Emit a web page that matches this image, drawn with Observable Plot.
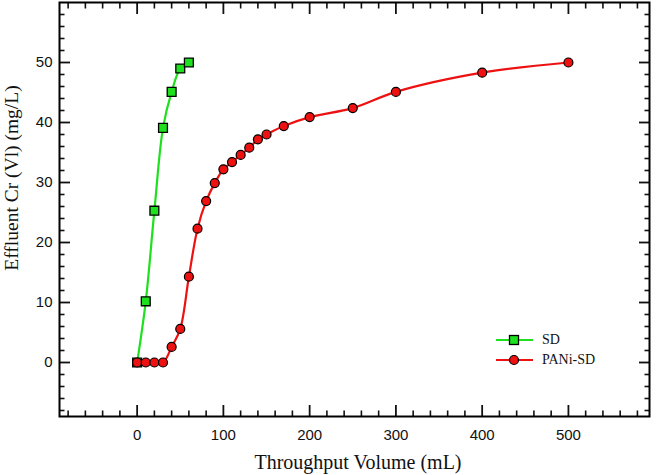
<!DOCTYPE html>
<html>
<head>
<meta charset="utf-8">
<script src="https://cdn.jsdelivr.net/npm/d3@7"></script>
<script src="https://cdn.jsdelivr.net/npm/@observablehq/plot@0.6"></script>
<style>
  html, body { margin: 0; padding: 0; background: #fff; }
  #wrap { position: relative; width: 656px; height: 475px; }
  #legend { position: absolute; left: 494px; top: 330px; font-family: "Liberation Serif", serif; font-size: 14px; color: #111; }
  #legend .row { display: flex; align-items: center; height: 20px; }
  #legend svg { margin-right: 9px; }
</style>
</head>
<body>
<div id="wrap"></div>
<script>
// Data
const sdVolume = [0, 10, 20, 30, 40, 50, 60];
const sdCr = [0, 10.2, 25.3, 39.1, 45.1, 49.0, 50.0];
const paniVolume = [0, 10, 20, 30, 40, 50, 60, 70, 80, 90, 100, 110, 120, 130, 140, 150, 170, 200, 250, 300, 400, 500];
const paniCr = [0, 0, 0, 0, 2.6, 5.6, 14.3, 22.3, 26.9, 29.9, 32.2, 33.4, 34.6, 35.8, 37.2, 38.0, 39.4, 40.9, 42.4, 45.1, 48.3, 50.0];
const xMajorTicks = [0, 100, 200, 300, 400, 500];
const yMajorTicks = [0, 10, 20, 30, 40, 50];
const seriesNames = ["SD", "PANi-SD"];
const xTitle = "Throughput Volume (mL)";
const yTitle = "Effluent Cr (Vl) (mg/L)";

const sd = sdVolume.map((v, i) => ({x: v, y: sdCr[i]}));
const pani = paniVolume.map((v, i) => ({x: v, y: paniCr[i]}));
const xMinor = d3.range(-80, 594, 20).filter(v => v % 100 !== 0);
const yMinor = d3.range(-8, 60, 2).filter(v => v % 10 !== 0);

const green = "#1fe01f";
const red = "#ee1111";

const W = 656, H = 475, ML = 59, MR = 7, MT = 2, MB = 59;

const chart = Plot.plot({
  width: W,
  height: H,
  marginLeft: ML,
  marginRight: MR,
  marginTop: MT,
  marginBottom: MB,
  style: {fontFamily: "Liberation Sans, Arial, sans-serif", fontSize: "15px", color: "#111", background: "#fff"},
  x: {domain: [-90, 594]},
  y: {domain: [-9, 60]},
  marks: [
    // labels
    Plot.axisX({anchor: "bottom", ticks: xMajorTicks, tickSize: 0, tickPadding: 13, fontSize: 15, label: null}),
    Plot.axisY({anchor: "left", ticks: yMajorTicks, tickSize: 0, tickPadding: 7, fontSize: 15, label: null}),
    // inward major ticks
    Plot.axisX({anchor: "bottom", ticks: xMajorTicks, tickSize: -11, text: null, label: null, strokeWidth: 1.8}),
    Plot.axisX({anchor: "top", ticks: xMajorTicks, tickSize: -11, text: null, label: null, strokeWidth: 1.8}),
    Plot.axisY({anchor: "left", ticks: yMajorTicks, tickSize: -11, text: null, label: null, strokeWidth: 1.8}),
    Plot.axisY({anchor: "right", ticks: yMajorTicks, tickSize: -11, text: null, label: null, strokeWidth: 1.8}),
    // inward minor ticks
    Plot.axisX({anchor: "bottom", ticks: xMinor, tickSize: -5.5, text: null, label: null, strokeWidth: 1.6}),
    Plot.axisX({anchor: "top", ticks: xMinor, tickSize: -5.5, text: null, label: null, strokeWidth: 1.6}),
    Plot.axisY({anchor: "left", ticks: yMinor, tickSize: -5.5, text: null, label: null, strokeWidth: 1.6}),
    Plot.axisY({anchor: "right", ticks: yMinor, tickSize: -5.5, text: null, label: null, strokeWidth: 1.6}),
    Plot.frame({stroke: "black", strokeWidth: 2}),
    // SD series
    Plot.line(sd, {x: "x", y: "y", stroke: green, strokeWidth: 2.2, curve: "catmull-rom"}),
    Plot.dot(sd, {x: "x", y: "y", symbol: "square", r: 5, fill: green, stroke: "black", strokeWidth: 1.3}),
    // PANi-SD series
    Plot.line(pani, {x: "x", y: "y", stroke: red, strokeWidth: 2.2, curve: "catmull-rom"}),
    Plot.dot(pani, {x: "x", y: "y", r: 4.5, fill: red, stroke: "black", strokeWidth: 1.2})
  ]
});

const wrap = document.getElementById("wrap");
wrap.appendChild(chart);

// axis titles (serif, as in the reference)
const svg = d3.select(chart);
svg.append("text")
  .attr("x", 358).attr("y", 469)
  .attr("text-anchor", "middle")
  .style("font-family", "Liberation Serif, Times New Roman, serif").style("font-size", "20px").attr("fill", "#111")
  .text(xTitle);
svg.append("text")
  .attr("transform", `translate(18, 178) rotate(-90)`)
  .attr("text-anchor", "middle")
  .style("font-family", "Liberation Serif, Times New Roman, serif").style("font-size", "19.5px").attr("fill", "#111")
  .text(yTitle);

// legend
const legend = document.createElement("div");
legend.id = "legend";
const markers = [
  {color: green, shape: "square"},
  {color: red, shape: "circle"}
];
seriesNames.forEach((name, i) => {
  const row = document.createElement("div");
  row.className = "row";
  const m = markers[i];
  const shape = m.shape === "square"
    ? `<rect x="15.5" y="5.5" width="9" height="9" fill="${m.color}" stroke="black" stroke-width="1.3"/>`
    : `<circle cx="20" cy="10" r="4.5" fill="${m.color}" stroke="black" stroke-width="1.2"/>`;
  row.innerHTML = `<svg width="39" height="20"><line x1="2" x2="39" y1="10" y2="10" stroke="${m.color}" stroke-width="2.2"/>${shape}</svg><span>${name}</span>`;
  legend.appendChild(row);
});
wrap.appendChild(legend);
</script>
</body>
</html>
